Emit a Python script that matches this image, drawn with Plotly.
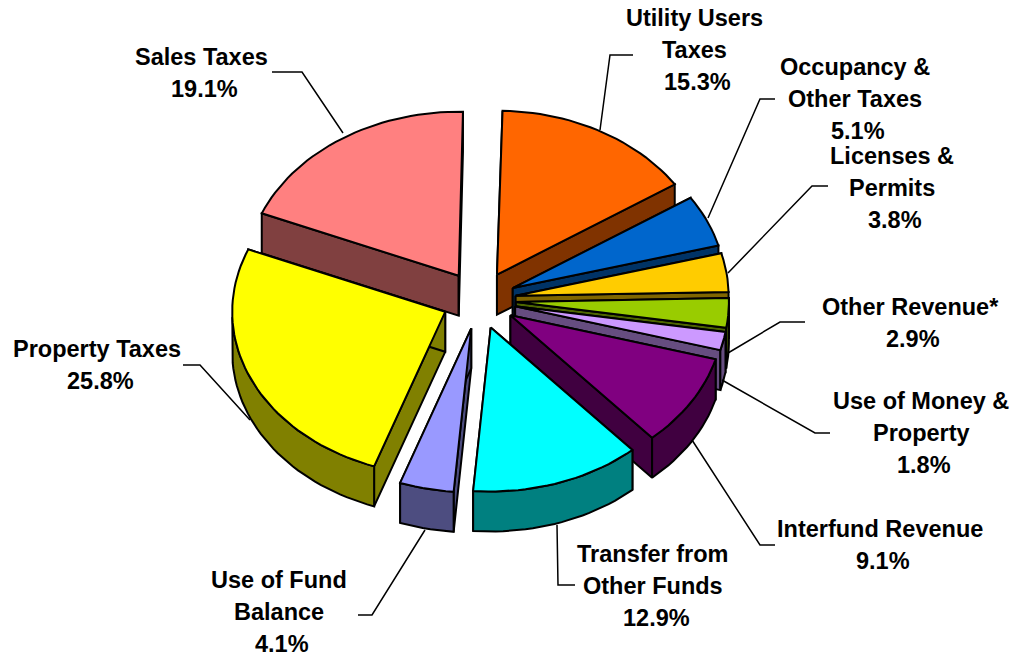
import math
import plotly.graph_objects as go

categories = ["Utility Users Taxes", "Occupancy & Other Taxes", "Licenses & Permits", "Other Revenue*",
              "Use of Money & Property", "Interfund Revenue", "Transfer from Other Funds",
              "Use of Fund Balance", "Property Taxes", "Sales Taxes"]
shares = [15.3, 5.1, 3.8, 2.9, 1.8, 9.1, 12.9, 4.1, 25.8, 19.1]
colors = ["#FF6600", "#0066CC", "#FFCC00", "#99CC00", "#CC99FF", "#800080", "#00FFFF", "#9999FF", "#FFFF00", "#FF8080"]
walls = ["#803300", "#003366", "#806600", "#4D6600", "#664D80", "#400040", "#008080", "#4D4D80", "#808000", "#804040"]
label_lines = [["Utility Users", "Taxes"], ["Occupancy &", "Other Taxes"], ["Licenses &", "Permits"], ["Other Revenue*"],
               ["Use of Money &", "Property"], ["Interfund Revenue"], ["Transfer from", "Other Funds"],
               ["Use of Fund", "Balance"], ["Property Taxes"], ["Sales Taxes"]]
label_pos = [(694, 50), (855, 99), (892, 188), (910, 323), (921, 433), (880, 545), (653, 586), (279, 612), (97, 365), (201, 73)]
leaders = [[(633, 55), (610, 55), (600, 130)], [(775, 99), (760, 99), (708, 218)], [(828, 186), (812, 186), (728, 273)],
           [(805, 322), (780, 322), (728, 353)], [(830, 433), (815, 433), (722, 380)], [(775, 545), (760, 545), (692, 440)],
           [(575, 585), (558, 585), (557, 525)], [(358, 615), (372, 615), (425, 530)], [(183, 365), (200, 365), (250, 420)],
           [(272, 72), (302, 72), (343, 133)]]

CX, CY, A, B, DEPTH, START = 479, 300, 213, 164, 40, 1.5
EX_A, EX_B = 37, 29
LINE_H = 32
PCT_SHIFT = 3

def pt(cx, cy, deg, dz=0):
    r = math.radians(deg)
    return cx + A * math.sin(r), cy - B * math.cos(r) + dz

fig = go.Figure()
def poly(pts, fill):
    fig.add_trace(go.Scatter(x=[p[0] for p in pts] + [pts[0][0]], y=[p[1] for p in pts] + [pts[0][1]],
                             mode="lines", fill="toself", fillcolor=fill, line=dict(color="black", width=2),
                             hoverinfo="skip", showlegend=False))

slices = []
cum = 0
for i, s in enumerate(shares):
    a0 = START + cum * 3.6
    a1 = START + (cum + s) * 3.6
    cum += s
    mid = math.radians((a0 + a1) / 2)
    slices.append((i, a0, a1, CX + EX_A * math.sin(mid), CY - EX_B * math.cos(mid), math.cos(mid)))

for i, a0, a1, cx, cy, c in sorted(slices, key=lambda t: -t[5]):
    steps = max(3, int((a1 - a0) / 2))
    arc = [a0 + (a1 - a0) * k / steps for k in range(steps + 1)]
    for e in (a0, a1):
        p = pt(cx, cy, e)
        poly([(cx, cy), p, (p[0], p[1] + DEPTH), (cx, cy + DEPTH)], walls[i])
    low = [d for d in arc if 90 <= d <= 270]
    if len(low) >= 2:
        poly([pt(cx, cy, d) for d in low] + [pt(cx, cy, d, DEPTH) for d in reversed(low)], walls[i])
    poly([(cx, cy)] + [pt(cx, cy, d) for d in arc], colors[i])

annotations = []
for lines, s, (x, y) in zip(label_lines, shares, label_pos):
    rows = lines + [f"{s:.1f}%"]
    for k, t in enumerate(rows):
        last = k == len(rows) - 1
        annotations.append(dict(x=x + (PCT_SHIFT if last else 0), y=y + (k - (len(rows) - 1) / 2) * LINE_H,
                                xref="x", yref="y", showarrow=False,
                                xanchor="center", yanchor="middle", align="center", text=f"<b>{t}</b>",
                                font=dict(family="Liberation Sans", size=23.5, color="black")))
shapes = []
for ln in leaders:
    path = "M" + " L".join(f"{x},{y}" for x, y in ln)
    shapes.append(dict(type="path", path=path, line=dict(color="black", width=1.5), xref="x", yref="y"))

fig.update_layout(width=1011, height=659, margin=dict(l=0, r=0, t=0, b=0), paper_bgcolor="white", plot_bgcolor="white",
                  xaxis=dict(range=[0, 1011], visible=False, fixedrange=True),
                  yaxis=dict(range=[659, 0], visible=False, fixedrange=True),
                  annotations=annotations, shapes=shapes, showlegend=False)
fig.write_html("out.html", post_script="document.body.style.margin='0';document.body.style.overflow='hidden';",
               config={"displayModeBar": False})
